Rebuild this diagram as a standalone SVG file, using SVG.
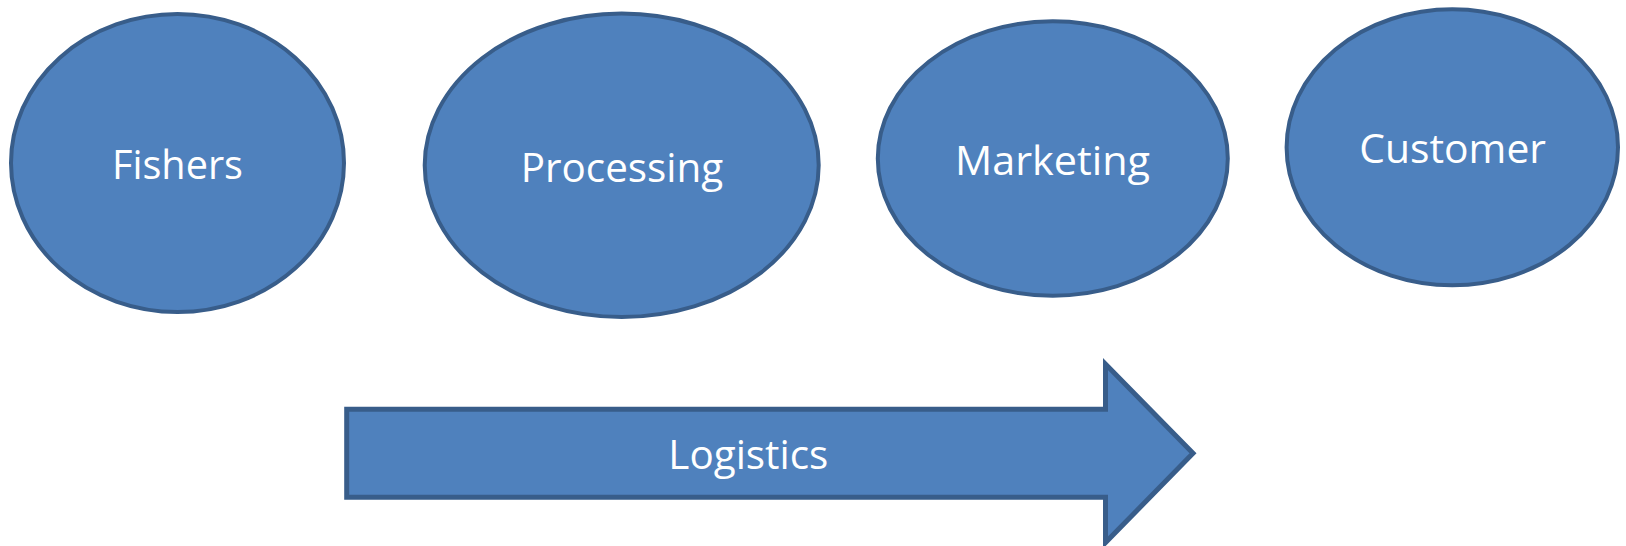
<svg xmlns="http://www.w3.org/2000/svg" width="1626" height="546" viewBox="0 0 1626 546">
<style>
.node{fill:#4F81BD;stroke:#385D8A;stroke-width:4}
.arrow{fill:#4F81BD;stroke:#385D8A;stroke-width:5}
.lbl{font-family:"Open Sans","Noto Sans",sans-serif;font-size:41px;fill:#FFFFFF}
</style>
<rect width="1626" height="546" fill="#FFFFFF"/>
<g id="fishers">
<ellipse class="node" cx="177.5" cy="163" rx="166.5" ry="149"/>
<text class="lbl" x="112" y="179" textLength="131" lengthAdjust="spacingAndGlyphs">Fishers</text>
</g>
<g id="processing">
<ellipse class="node" cx="621.7" cy="165.3" rx="197" ry="151.7"/>
<text class="lbl" x="520.7" y="181.7" textLength="202.6" lengthAdjust="spacingAndGlyphs">Processing</text>
</g>
<g id="marketing">
<ellipse class="node" cx="1052.8" cy="158.5" rx="175" ry="137.2"/>
<text class="lbl" x="955" y="174.7" textLength="195" lengthAdjust="spacingAndGlyphs">Marketing</text>
</g>
<g id="customer">
<ellipse class="node" cx="1452.3" cy="147.3" rx="165.7" ry="138"/>
<text class="lbl" x="1359.3" y="162.7" textLength="186.7" lengthAdjust="spacingAndGlyphs">Customer</text>
</g>
<g id="logistics">
<polygon class="arrow" points="346.7,409.3 1105.5,409.3 1105.5,364 1193,453.3 1105.5,542.6 1105.5,497.3 346.7,497.3"/>
<text class="lbl" x="668.3" y="469" textLength="160" lengthAdjust="spacingAndGlyphs">Logistics</text>
</g>
<g id="connectors"></g>
</svg>
